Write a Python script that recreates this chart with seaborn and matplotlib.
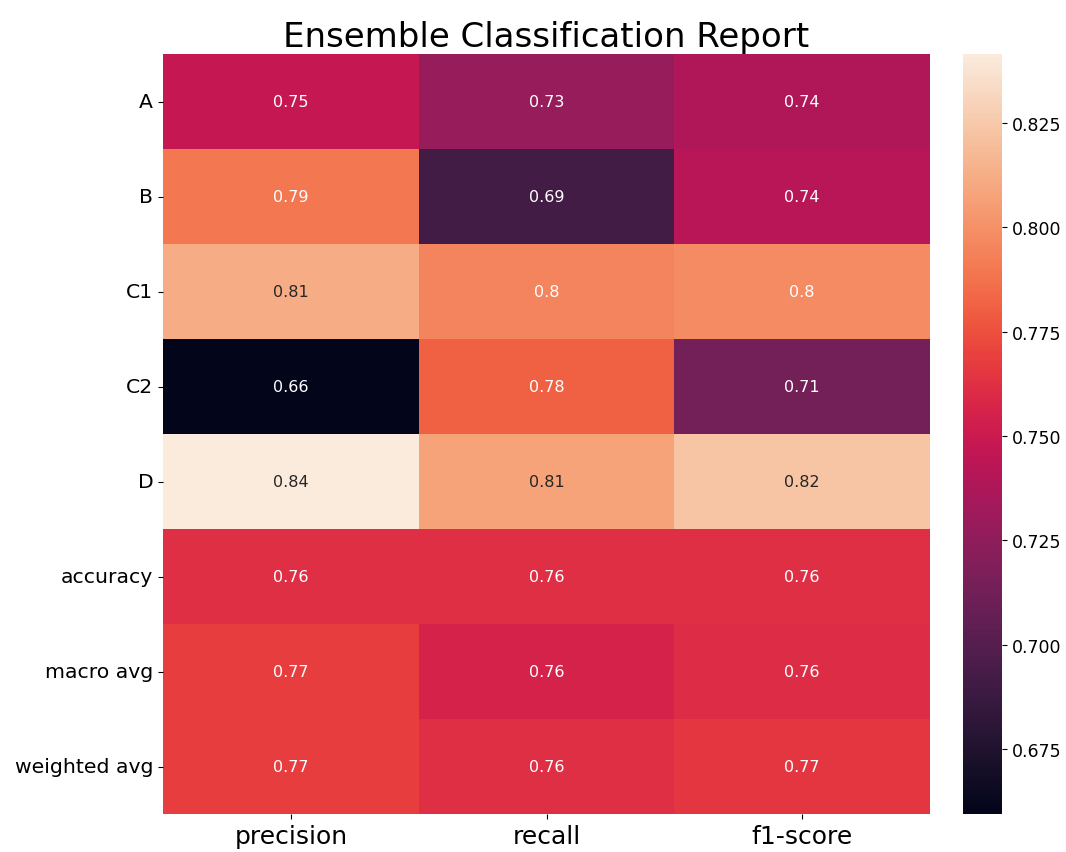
import matplotlib
matplotlib.use('Agg')
import matplotlib.pyplot as plt
import seaborn as sns
import pandas as pd

rows = ['A', 'B', 'C1', 'C2', 'D', 'accuracy', 'macro avg', 'weighted avg']
cols = ['precision', 'recall', 'f1-score']

precision = [0.748, 0.790, 0.812, 0.6595, 0.8415, 0.762, 0.768, 0.768]
recall = [0.728, 0.692, 0.795, 0.781, 0.808, 0.762, 0.756, 0.762]
f1_score = [0.738, 0.742, 0.798, 0.713, 0.823, 0.762, 0.761, 0.765]

report = pd.DataFrame({'precision': precision, 'recall': recall, 'f1-score': f1_score}, index=rows)[cols]

W, H = 1066, 853
fig = plt.figure(figsize=(W / 100, H / 100), dpi=100)
ax = fig.add_axes([163 / W, 38 / H, 767 / W, 760 / H])
cax = fig.add_axes([963 / W, 38 / H, 39 / W, 760 / H])

sns.heatmap(report, annot=True, ax=ax, cbar_ax=cax, annot_kws={'size': 11.5})
ax.set_title('Ensemble Classification Report', fontsize=24.5)
ax.tick_params(axis='x', labelsize=18)
ax.tick_params(axis='y', labelsize=14.7, rotation=0)
cax.tick_params(labelsize=12.5)

plt.savefig('out.png', dpi=100)
